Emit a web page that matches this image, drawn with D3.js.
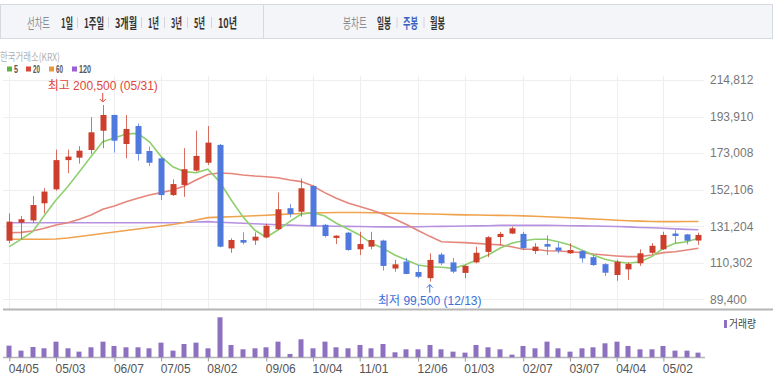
<!DOCTYPE html>
<html>
<head>
<meta charset="utf-8">
<script src="https://cdn.jsdelivr.net/npm/d3@7"></script>
<style>
  body { margin: 0; background: #fff; }
  svg { display: block; }
</style>
</head>
<body>
<div id="chart"></div>
<script>
const width = 773;
const height = 384;

// weekly candles, 2021-04-05 .. 2022-05-23
const weeks = d3.utcMonday.range(new Date(Date.UTC(2021, 3, 5)), new Date(Date.UTC(2022, 4, 24)));

const open = [122900,133200,134500,144300,152300,169000,170400,174800,185800,194800,
  178200,188500,174200,170000,149000,154800,163000,167500,177700,118500,
  123300,123000,124800,129500,141500,139500,154200,132000,124500,127500,
  118000,119500,123000,107000,111000,105000,101500,115000,110500,104500,
  110500,116500,125000,127000,126800,117000,121000,119000,115700,117000,
  113500,109500,103300,106500,110000,116000,118000,127000,126500,123000];
const high = [138500,137000,148500,153000,175000,175000,177000,193500,200500,195000,
  194800,190000,176700,170600,158000,175800,185800,188500,178200,124300,
  127700,127700,132500,150500,144000,158500,154800,132500,126000,128000,
  128000,128000,123500,112000,113000,109000,115700,116000,113000,109000,
  119500,125500,128000,131000,128000,121500,126000,121800,121500,117500,
  114800,110000,112000,110500,118000,121500,128000,129000,126800,127500];
const low = [121500,123700,133200,138500,151500,161500,167000,172500,175800,173300,
  170000,168700,165600,146200,148500,148000,162400,166200,119100,116000,
  120800,120500,124300,129000,136300,136700,130800,124800,121000,117200,
  114700,118000,105800,105200,103800,101500,99500,109000,104300,101500,
  110000,113500,120500,126800,117600,115300,114700,115700,115300,110300,
  108500,102700,100000,100500,108500,115300,117600,121500,120800,120500];
const close = [133800,135200,143300,151000,169000,171000,174400,184900,194800,180100,
  186800,172500,167500,149000,155300,163800,171400,179000,119500,123300,
  121800,125200,131500,140900,138200,152900,131300,125600,125800,117600,
  121000,123300,108500,109400,103900,102300,111900,110000,105200,108500,
  116000,124900,126800,130000,118600,119500,119500,117200,117600,112800,
  109000,104600,110900,109600,115700,120000,126200,125600,122900,126200];
const volume = [1050000,600000,930000,810000,1410000,810000,510000,900000,1410000,1020000,
  900000,900000,810000,1320000,600000,1200000,1320000,810000,3600000,1110000,
  720000,810000,900000,1410000,300000,1620000,810000,1410000,900000,810000,
  1110000,810000,1200000,450000,720000,720000,1110000,720000,510000,420000,
  1110000,900000,720000,240000,1020000,810000,1410000,810000,510000,810000,
  900000,1260000,1410000,1020000,720000,720000,1020000,600000,600000,420000];

// moving averages as drawn on the chart
const ma5 = [119500,123700,128100,137300,146200,153800,162400,171000,179500,181700,
  183900,184300,179500,171000,165200,162400,161800,163800,156700,146200,
  136600,129000,124900,129000,133800,138200,138900,137000,132900,129600,
  126200,121400,118600,114700,111900,109000,108000,107700,107100,109000,
  111900,114700,118600,121400,122900,123700,123700,122300,120500,117600,
  114700,112300,110900,110000,110900,113800,118600,121400,122300,124300];
const ma20 = [127500,127700,128500,130000,131900,133200,135200,137600,140900,142800,
  145200,147200,149100,150400,151900,154200,157600,160800,161600,161300,
  160500,159900,159500,158900,157600,156700,154200,150400,147200,144500,
  142500,140500,138200,135300,132200,128700,125400,122300,122000,121800,
  121400,120900,120500,119500,118000,118000,117200,117000,116600,116100,
  115300,114700,114200,113800,113800,114700,116100,116600,117600,118600];
const ma60 = [123700,123700,123700,123700,123900,124500,125300,126200,127000,127900,
  128700,129600,130500,131300,132200,133300,134700,136100,136400,136600,
  136900,137200,137500,137800,138200,138500,138800,138900,139000,139000,
  139000,138900,138800,138600,138500,138300,138200,138000,137800,137700,
  137600,137500,137400,137300,137100,136900,136600,136300,136000,135700,
  135300,135000,134600,134300,134100,133900,133800,133800,133900,133900];
const ma120 = [133200,133200,133200,133200,133200,133200,133200,133200,133200,133200,
  133200,133200,133200,133200,133200,133300,133600,133800,133500,133200,
  132900,132600,132300,132000,131800,131600,131400,131300,131200,131100,
  131000,130900,130800,130800,130800,130900,131000,131100,131200,131300,
  131400,131500,131700,131700,131700,131700,131700,131600,131500,131400,
  131300,131200,131000,130800,130500,130300,130000,129700,129400,129200];

const priceTicks = [89400, 110302, 131204, 152106, 173008, 193910, 214812];
const dateTicks = ["2021-04-05","2021-05-03","2021-06-07","2021-07-05","2021-08-02","2021-09-06",
  "2021-10-04","2021-11-01","2021-12-06","2022-01-03","2022-02-07","2022-03-07","2022-04-04","2022-05-02"];
const periodTabs = ["1일", "1주일", "3개월", "1년", "3년", "5년", "10년"];
const candleTabs = ["일봉", "주봉", "월봉"];
const maKeys = ["5", "20", "60", "120"];
const maColor = d3.scaleOrdinal().domain(maKeys).range(["#8fcf6e", "#e5867c", "#f0a34e", "#b790e0"]);
const maSwatch = d3.scaleOrdinal().domain(maKeys).range(["#55b843", "#d5493a", "#e8973a", "#9a5fd2"]);
const upColor = "#cc3f2c";
const downColor = "#5079dd";
const volColor = "#8d70bf";

const svg = d3.select("#chart").append("svg")
  .attr("width", width)
  .attr("height", height)
  .style("font-family", "'Liberation Sans', 'Noto Sans CJK KR', sans-serif");

// narrow text: draw at natural size then squeeze horizontally to the width seen in the chart
function squeezed(parent, x, y, w, label, size, color, weight, family) {
  const t = parent.append("text")
    .style("font-family", family || "'Noto Sans CJK KR', sans-serif")
    .style("font-size", size + "px")
    .style("font-weight", weight || 400)
    .attr("fill", color)
    .text(label);
  const natural = t.node().getComputedTextLength();
  t.attr("transform", `translate(${x},${y}) scale(${w / natural},1)`);
  return t;
}

// ---- top tab bar
const bar = svg.append("g");
bar.append("rect").attr("x", 0.5).attr("y", 4.5).attr("width", width - 1).attr("height", 34)
  .attr("fill", "#f4f5f8").attr("stroke", "#d6d9df");
bar.append("line").attr("x1", 263.5).attr("x2", 263.5).attr("y1", 5).attr("y2", 38).attr("stroke", "#d6d9df");

squeezed(bar, 27, 27.5, 23, "선차트", 13.5, "#8a8d94", 400);
const periodX = [[61, 12], [84, 20], [115, 22], [148, 11], [171, 11], [194, 11], [218, 19]];
periodTabs.forEach((t, i) => {
  squeezed(bar, periodX[i][0], 27.5, periodX[i][1], t, 13.5, "#333", 700);
  if (i > 0) {
    const sx = periodX[i][0] - 6.5;
    bar.append("line").attr("x1", sx).attr("x2", sx).attr("y1", 17).attr("y2", 28).attr("stroke", "#d3d5da");
  }
});
squeezed(bar, 343, 27.5, 24, "봉차트", 13.5, "#8a8d94", 400);
const candleX = [[377, 14], [403, 15], [430, 15]];
candleTabs.forEach((t, i) => {
  squeezed(bar, candleX[i][0], 27.5, candleX[i][1], t, 13.5, t === "주봉" ? "#3b5fc0" : "#333", 700);
  if (i > 0) {
    const sx = candleX[i][0] - 6;
    bar.append("line").attr("x1", sx).attr("x2", sx).attr("y1", 17).attr("y2", 28).attr("stroke", "#d3d5da");
  }
});

// ---- exchange label and MA legend
squeezed(svg, 0, 60.5, 60, "한국거래소(KRX)", 11, "#b0b0b0", 400);

const legX = [7, 26, 49, 72];
const legW = [4, 7, 7, 12];
maKeys.forEach((k, i) => {
  svg.append("rect").attr("x", legX[i]).attr("y", 66.5).attr("width", 5).attr("height", 5).attr("fill", maSwatch(k));
  squeezed(svg, legX[i] + 7, 73, legW[i], k, 10, "#555", 700, "'Liberation Sans', sans-serif");
});

// ---- scales
const xScale = d3.scaleUtc()
  .domain([weeks[0], weeks[weeks.length - 1]])
  .range([9.3, 698.4]);
const yPrice = d3.scaleLinear().domain([89400, 214812]).range([299.3, 80]);
const yVol = d3.scaleLinear().domain([0, 4050000]).range([357.3, 312.3]);
const tickDates = dateTicks.map(d => new Date(d + "T00:00:00Z"));

// grid
const grid = svg.append("g").attr("stroke", "#eeeeee").attr("stroke-width", 1);
grid.selectAll("line.h").data(priceTicks).enter().append("line")
  .attr("x1", 3).attr("x2", 704)
  .attr("y1", d => Math.round(yPrice(d)) + 0.5).attr("y2", d => Math.round(yPrice(d)) + 0.5);
grid.selectAll("line.v").data(tickDates).enter().append("line")
  .attr("x1", d => Math.round(xScale(d)) + 0.5).attr("x2", d => Math.round(xScale(d)) + 0.5)
  .attr("y1", 76).attr("y2", 309);

// price axis labels (right)
const yAxis = d3.axisRight(yPrice).tickValues(priceTicks).tickSize(0).tickPadding(0).tickFormat(d3.format(","));
const yAxisG = svg.append("g").attr("transform", "translate(710,0)").call(yAxis);
yAxisG.select(".domain").remove();
yAxisG.selectAll("text").style("font-family", "'Liberation Sans', sans-serif").style("font-size", "12px").attr("fill", "#777");

// separators
svg.append("line").attr("x1", 3).attr("x2", width).attr("y1", 309.5).attr("y2", 309.5).attr("stroke", "#b5b5b5").attr("stroke-width", 2);
svg.append("line").attr("x1", 3).attr("x2", 705).attr("y1", 357.5).attr("y2", 357.5).attr("stroke", "#b5b5b5").attr("stroke-width", 1.5);

// ---- moving averages
const maSeries = [["120", ma120], ["60", ma60], ["20", ma20], ["5", ma5]];
const line = d3.line().x((d, i) => xScale(weeks[i])).y(d => yPrice(d));
svg.append("g").selectAll("path").data(maSeries).enter().append("path")
  .attr("d", d => line(d[1]))
  .attr("fill", "none")
  .attr("stroke", d => maColor(d[0]))
  .attr("stroke-width", 1.6);

// ---- candles
const candles = svg.append("g").selectAll("g").data(weeks).enter().append("g")
  .attr("fill", (d, i) => close[i] >= open[i] ? upColor : downColor)
  .attr("stroke", (d, i) => close[i] >= open[i] ? upColor : downColor);
candles.append("line")
  .attr("x1", d => Math.round(xScale(d)) + 0.5).attr("x2", d => Math.round(xScale(d)) + 0.5)
  .attr("y1", (d, i) => yPrice(high[i])).attr("y2", (d, i) => yPrice(low[i]))
  .attr("stroke-opacity", 0.75);
candles.append("rect")
  .attr("x", d => Math.round(xScale(d)) - 2.5)
  .attr("width", 6)
  .attr("y", (d, i) => yPrice(Math.max(open[i], close[i])))
  .attr("height", (d, i) => Math.max(1.5, yPrice(Math.min(open[i], close[i])) - yPrice(Math.max(open[i], close[i]))))
  .attr("stroke", "none");

// ---- high / low annotations
const hiIdx = d3.maxIndex(high);
const loIdx = d3.minIndex(low);
const fmtDay = d3.utcFormat("%m/%d");
const hx = xScale(weeks[hiIdx]);
const hy = yPrice(high[hiIdx]);
svg.append("text").attr("x", hx).attr("y", hy - 15).attr("text-anchor", "middle")
  .style("font-size", "12px").attr("fill", "#e0473a")
  .text("최고 " + d3.format(",")(high[hiIdx]) + " (" + fmtDay(weeks[hiIdx]) + ")");
svg.append("path").attr("d", `M${hx},${hy - 12}V${hy - 3}M${hx - 3},${hy - 6}L${hx},${hy - 3}L${hx + 3},${hy - 6}`)
  .attr("fill", "none").attr("stroke", "#e0473a").attr("stroke-width", 1);
const lx = xScale(weeks[loIdx]);
const ly = yPrice(low[loIdx]);
svg.append("path").attr("d", `M${lx},${ly + 11}V${ly + 3}M${lx - 3},${ly + 6}L${lx},${ly + 3}L${lx + 3},${ly + 6}`)
  .attr("fill", "none").attr("stroke", "#3d6fd8").attr("stroke-width", 1);
svg.append("text").attr("x", lx).attr("y", ly + 23).attr("text-anchor", "middle")
  .style("font-size", "12px").attr("fill", "#3d6fd8")
  .text("최저 " + d3.format(",")(low[loIdx]) + " (" + fmtDay(weeks[loIdx]) + ")");

// ---- volume
svg.append("g").selectAll("rect").data(weeks).enter().append("rect")
  .attr("x", d => Math.round(xScale(d)) - 2.5)
  .attr("width", 5)
  .attr("y", (d, i) => yVol(volume[i]))
  .attr("height", (d, i) => yVol(0) - yVol(volume[i]))
  .attr("fill", volColor);

svg.append("rect").attr("x", 724).attr("y", 320).attr("width", 3).attr("height", 8).attr("fill", volColor);
squeezed(svg, 729, 328, 27, "거래량", 11, "#444", 400);

// date axis: labels start at the tick
const xAxis = d3.axisBottom(xScale).tickValues(tickDates).tickSize(4).tickPadding(3).tickFormat(fmtDay);
const xAxisG = svg.append("g").attr("transform", "translate(0,357.5)").call(xAxis);
xAxisG.select(".domain").remove();
xAxisG.selectAll("line").attr("stroke", "#999");
xAxisG.selectAll("text")
  .attr("text-anchor", "start").attr("x", -1)
  .style("font-family", "'Liberation Sans', sans-serif").style("font-size", "12px").attr("fill", "#555");
</script>
</body>
</html>
